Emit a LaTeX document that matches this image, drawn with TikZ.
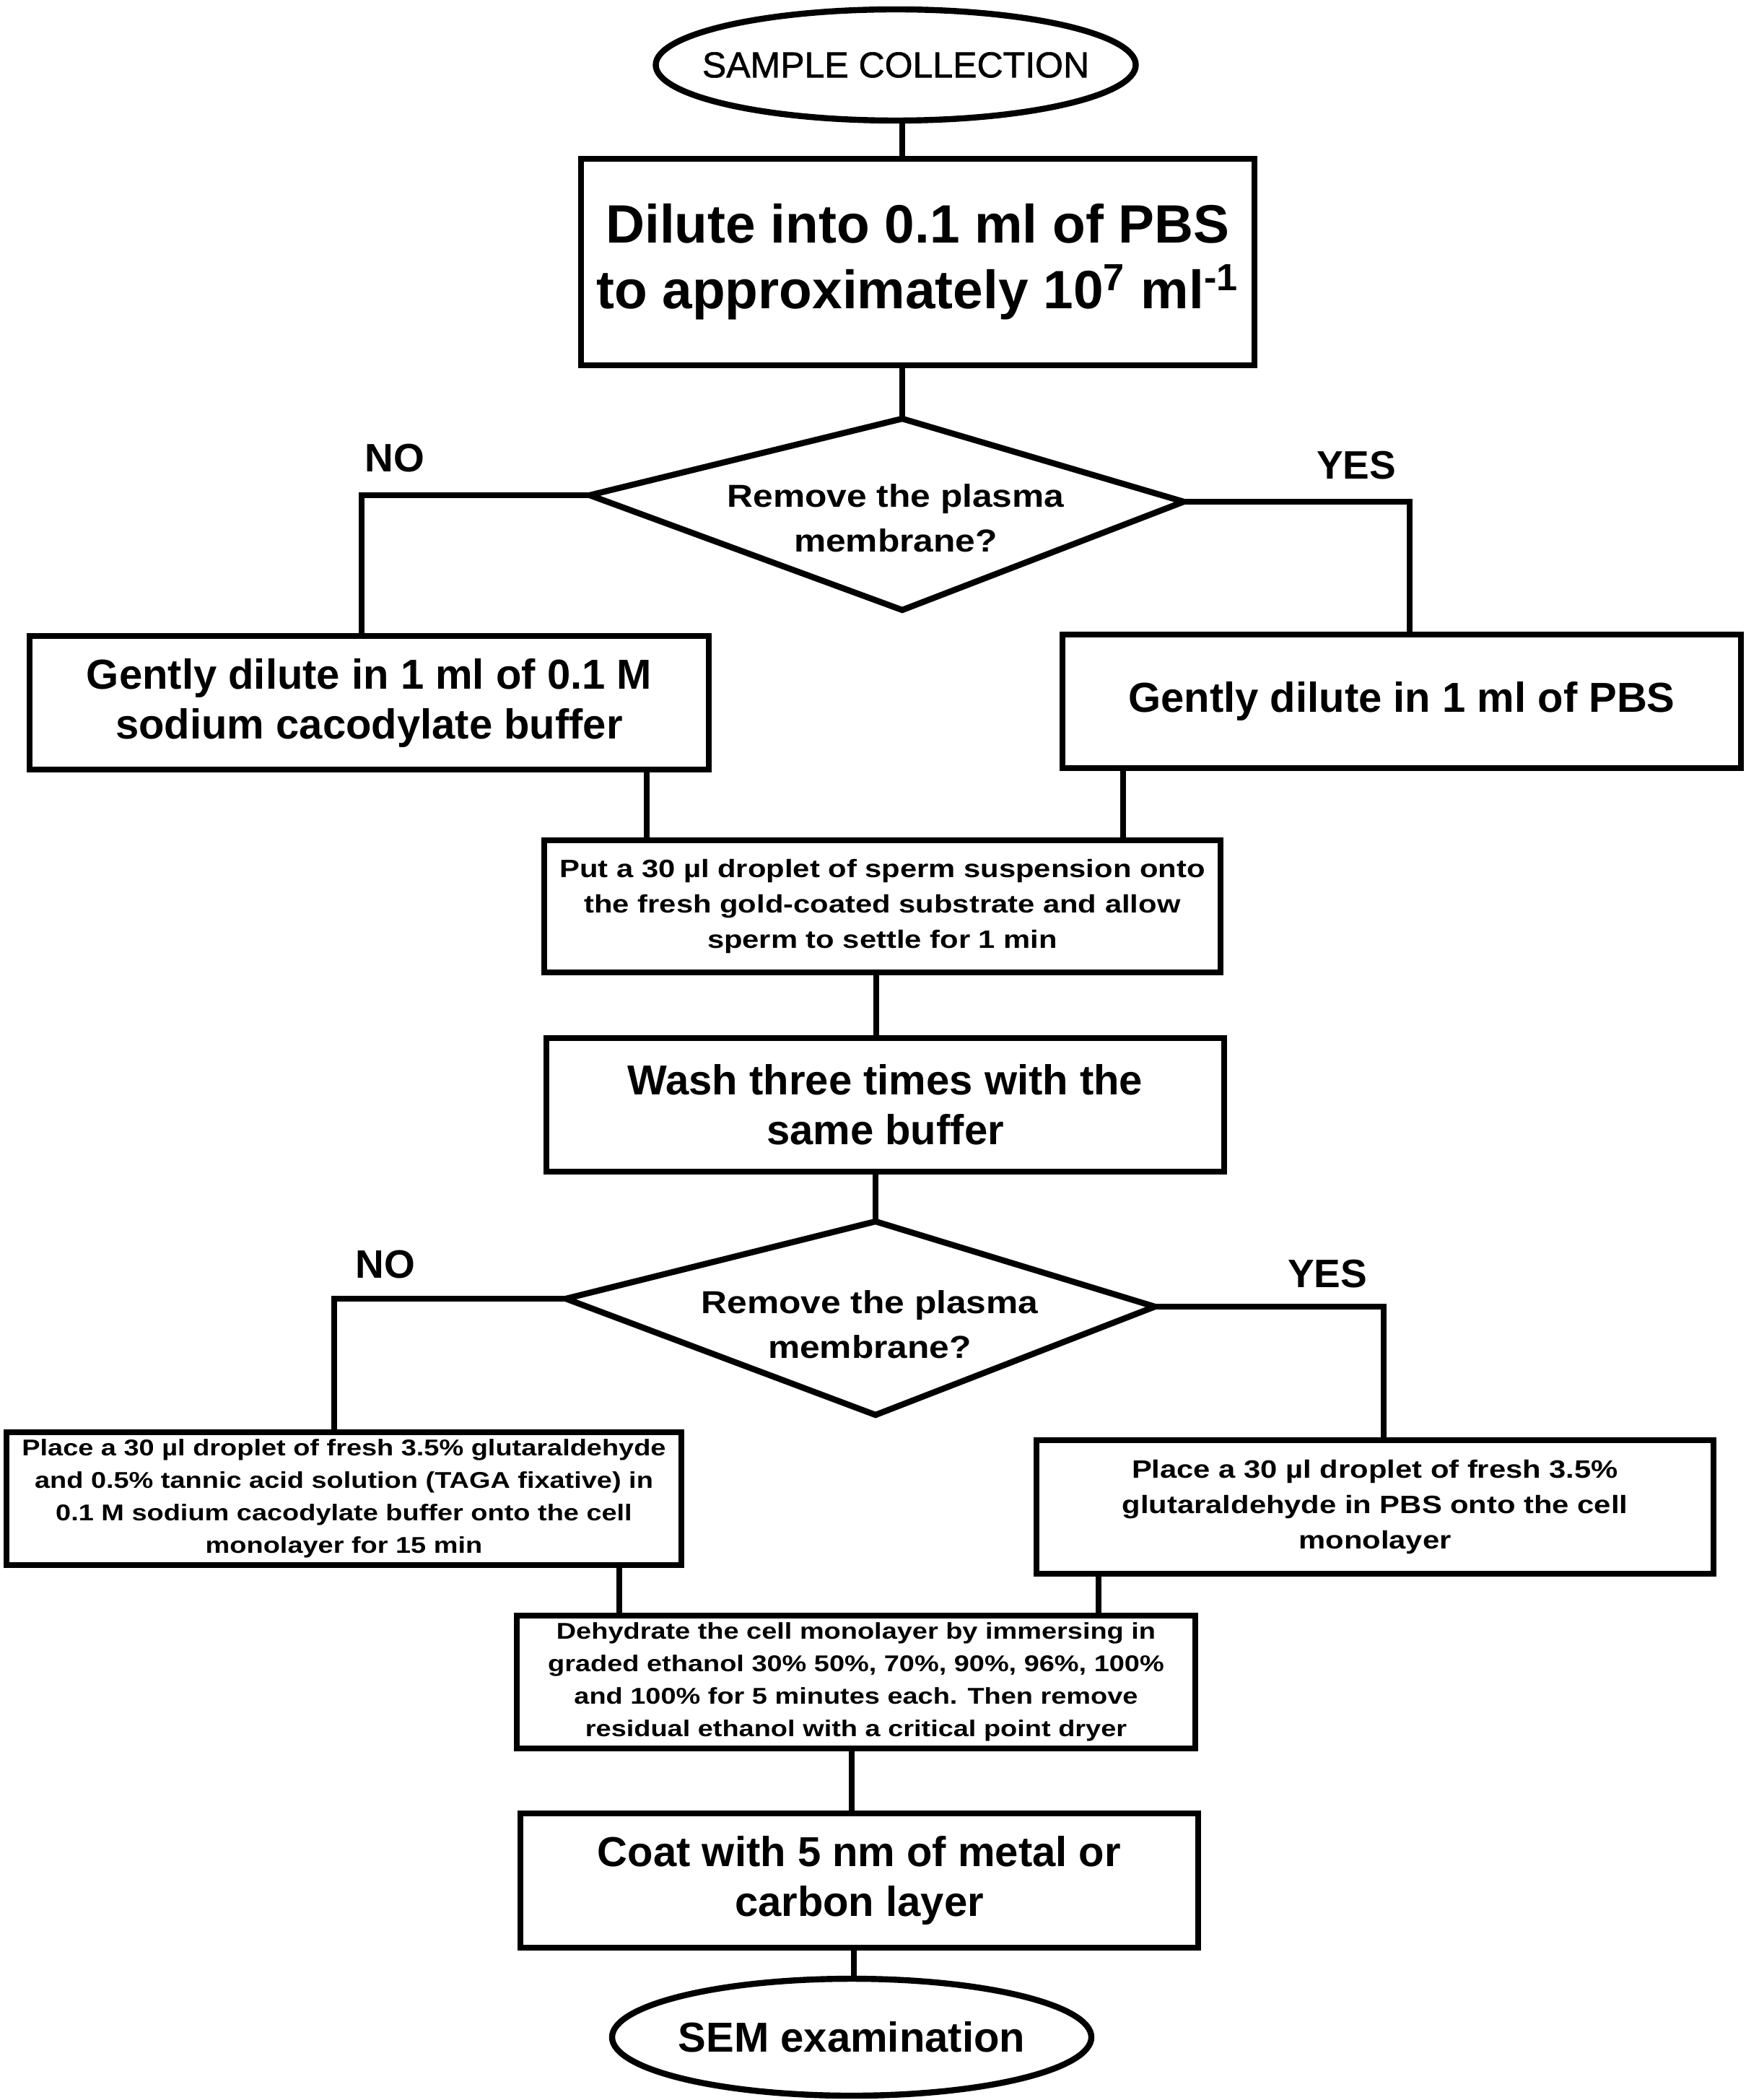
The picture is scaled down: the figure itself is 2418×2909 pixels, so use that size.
\documentclass[tikz,border=0pt]{standalone}
\usepackage{fontspec}
\setmainfont{Liberation Sans}
\newfontfamily\fsSmall{Liberation Sans}[FakeStretch=1.2]
\newfontfamily\fsDia{Liberation Sans}[FakeStretch=1.13]
\newfontfamily\fsMed{Liberation Sans}[FakeBold=1.2]
\usetikzlibrary{shapes.geometric}
\tikzset{
  ln/.style={line width=2.1pt, line join=miter},
  conn/.style={ln},
  box/.style={draw, ln, rectangle, inner sep=0pt, align=center},
  oval/.style={draw, ln, ellipse, inner sep=0pt, align=center},
  dtext/.style={inner sep=0pt, align=center, font=\fsDia\bfseries\fontsize{11pt}{15.5pt}\selectfont},
  lbl/.style={inner sep=0pt, font=\bfseries\fontsize{13.75pt}{16pt}\selectfont},
  bigtxt/.style={font=\bfseries\fontsize{14.5pt}{17.25pt}\selectfont},
  smalltxt/.style={font=\fsSmall\bfseries\fontsize{8.7pt}{12.25pt}\selectfont},
  tinytxt/.style={font=\fsSmall\bfseries\fontsize{7.9pt}{11.25pt}\selectfont},
}
\begin{document}
\begin{tikzpicture}[x=0.25pt, y=-0.25pt]
\useasboundingbox (0,0) rectangle (2418,2909);
\fill[white] (0,0) rectangle (2418,2909);

% start ellipse
\node[oval, minimum width=166.25pt, minimum height=38.5pt,
      font=\fsMed\fontsize{12.5pt}{15pt}\selectfont] (start) at (1241,90) {\makebox[0pt]{SAMPLE COLLECTION}};

\coordinate (cx1) at (1250,0);
\node[box, minimum width=233.25pt, minimum height=71.5pt,
      font=\bfseries\fontsize{18.7pt}{22.75pt}\selectfont] (dil) at (1271.5,363)
  {Dilute into 0.1 ml of PBS\\to approximately 10\textsuperscript{7} ml\textsuperscript{-1}};

% diamond 1
\coordinate (d1t) at (1250,580);
\coordinate (d1l) at (817,686);
\coordinate (d1r) at (1640,695);
\coordinate (d1b) at (1250,845);
\draw[ln] (d1t) -- (d1r) -- (d1b) -- (d1l) -- cycle;
\node[dtext] (d1) at (1241,718) {Remove the plasma\\membrane?};

\draw[conn] (start.south -| cx1) -- (dil.north -| cx1);
\draw[conn] (dil.south -| cx1) -- (d1t);

\node[lbl] (no1l) at (547,635) {NO};
\node[lbl] (yes1l) at (1879,645) {YES};

\node[box, bigtxt, minimum width=235.25pt, minimum height=46.25pt] (no1) at (511.5,973.5)
  {Gently dilute in 1 ml of 0.1 M\\sodium cacodylate buffer};
\node[box, bigtxt, minimum width=235pt, minimum height=46.25pt] (yes1) at (1942,971.5)
  {Gently dilute in 1 ml of PBS};

\coordinate (n1c) at (501,686);
\draw[conn] (d1l) -- (n1c) -- (n1c |- no1.north);
\coordinate (y1c) at (1953,695);
\draw[conn] (d1r) -- (y1c) -- (y1c |- yes1.north);

% put box
\node[box, smalltxt, minimum width=234.25pt, minimum height=45.75pt] (put) at (1222.5,1255.5)
  {Put a 30 µl droplet of sperm suspension onto\\the fresh gold-coated substrate and allow\\sperm to settle for 1 min};
\coordinate (p1) at (896,0);
\coordinate (p2) at (1556,0);
\draw[conn] (no1.south -| p1) -- (put.north -| p1);
\draw[conn] (yes1.south -| p2) -- (put.north -| p2);

% wash box
\coordinate (cx2) at (1214,0);
\node[box, bigtxt, minimum width=234.75pt, minimum height=46.25pt] (wash) at (1226.5,1530.5)
  {Wash three times with the\\same buffer};
\draw[conn] (put.south -| cx2) -- (wash.north -| cx2);

% diamond 2
\coordinate (d2t) at (1213,1692);
\coordinate (d2l) at (784,1799);
\coordinate (d2r) at (1600,1810);
\coordinate (d2b) at (1213,1960);
\draw[ln] (d2t) -- (d2r) -- (d2b) -- (d2l) -- cycle;
\node[dtext] (d2) at (1205,1835) {Remove the plasma\\membrane?};
\draw[conn] (wash.south -| d2t) -- (d2t);

\node[lbl] (no2l) at (534,1752) {NO};
\node[lbl] (yes2l) at (1839,1765) {YES};

\node[box, tinytxt, minimum width=233.75pt, minimum height=46pt] (no2) at (476.5,2076)
  {Place a 30 µl droplet of fresh 3.5\% glutaraldehyde\\and 0.5\% tannic acid solution (TAGA fixative) in\\0.1 M sodium cacodylate buffer onto the cell\\monolayer for 15 min};
\node[box, smalltxt, minimum width=234.5pt, minimum height=46.25pt] (yes2) at (1905,2087.5)
  {Place a 30 µl droplet of fresh 3.5\%\\glutaraldehyde in PBS onto the cell\\monolayer};

\coordinate (n2c) at (463,1799);
\draw[conn] (d2l) -- (n2c) -- (n2c |- no2.north);
\coordinate (y2c) at (1917,1810);
\draw[conn] (d2r) -- (y2c) -- (y2c |- yes2.north);

% dehydrate box
\node[box, tinytxt, minimum width=235pt, minimum height=46pt] (dehy) at (1186,2330)
  {Dehydrate the cell monolayer by immersing in\\graded ethanol 30\% 50\%, 70\%, 90\%, 96\%, 100\%\\and 100\% for 5 minutes each. Then remove\\residual ethanol with a critical point dryer};
\coordinate (q1) at (858,0);
\coordinate (q2) at (1522,0);
\draw[conn] (no2.south -| q1) -- (dehy.north -| q1);
\draw[conn] (yes2.south -| q2) -- (dehy.north -| q2);

% coat box
\coordinate (cx3) at (1180,0);
\node[box, bigtxt, minimum width=234.75pt, minimum height=46.5pt] (coat) at (1190.5,2605)
  {Coat with 5 nm of metal or\\carbon layer};
\draw[conn] (dehy.south -| cx3) -- (coat.north -| cx3);

% end ellipse
\coordinate (cx4) at (1183,0);
\node[oval, bigtxt, minimum width=166pt, minimum height=40.5pt] (sem) at (1180,2822)
  {\makebox[0pt]{SEM examination}};
\draw[conn] (coat.south -| cx4) -- (sem.north -| cx4);
\end{tikzpicture}
\end{document}
